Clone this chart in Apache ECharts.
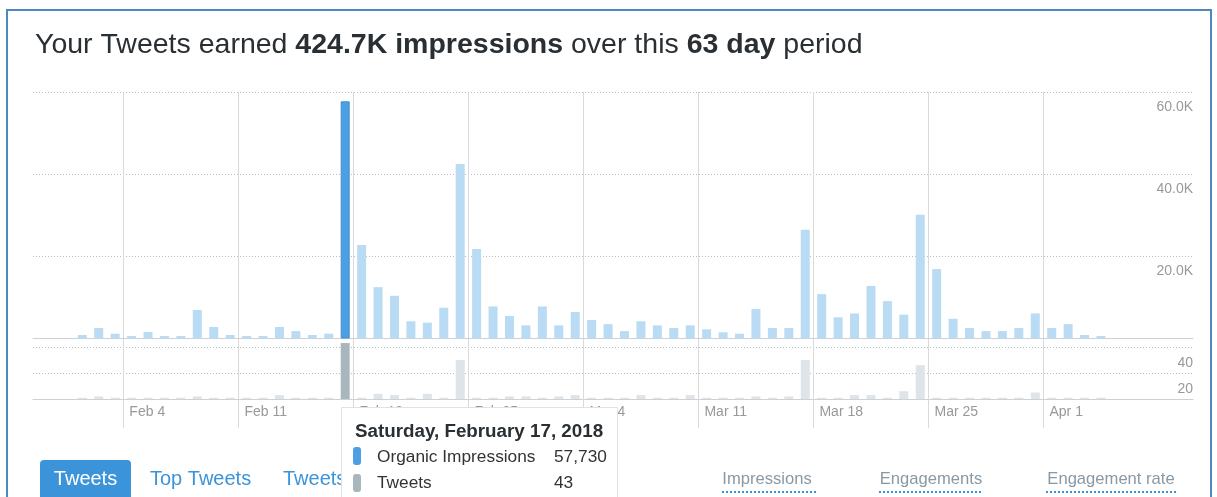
<!DOCTYPE html>
<html><head><meta charset="utf-8">
<script src="https://cdn.jsdelivr.net/npm/echarts@6/dist/echarts.min.js"></script>
<style>html,body{margin:0;padding:0;background:#fff;}#c{width:1217px;height:497px;}</style>
</head><body><div id="c"></div>
<script>
// ---- data ----
const dates = ['Feb 1','Feb 2','Feb 3','Feb 4','Feb 5','Feb 6','Feb 7','Feb 8','Feb 9','Feb 10',
 'Feb 11','Feb 12','Feb 13','Feb 14','Feb 15','Feb 16','Feb 17','Feb 18','Feb 19','Feb 20',
 'Feb 21','Feb 22','Feb 23','Feb 24','Feb 25','Feb 26','Feb 27','Feb 28','Mar 1','Mar 2',
 'Mar 3','Mar 4','Mar 5','Mar 6','Mar 7','Mar 8','Mar 9','Mar 10','Mar 11','Mar 12',
 'Mar 13','Mar 14','Mar 15','Mar 16','Mar 17','Mar 18','Mar 19','Mar 20','Mar 21','Mar 22',
 'Mar 23','Mar 24','Mar 25','Mar 26','Mar 27','Mar 28','Mar 29','Mar 30','Mar 31','Apr 1',
 'Apr 2','Apr 3','Apr 4'];
const impressions = [850,2560,1170,600,1580,600,600,6940,2800,850,
 600,600,2800,1800,850,1170,57730,22760,12500,10400,
 4200,3850,7500,42500,21800,7800,5500,3200,7800,3200,
 6450,4500,3500,1800,4200,3200,2560,3200,2240,1500,
 1170,7200,2560,2560,26500,10800,5160,6100,12800,9100,
 5800,30100,16900,4800,2560,1800,1800,2560,6100,2560,
 3500,850,600];
const tweets = [1,2,1,1,1,1,1,2,1,1,
 1,1,3,1,1,1,43,1,4,3,
 1,4,1,30,1,1,2,2,1,2,
 3,1,1,1,3,1,1,3,1,1,
 1,2,1,2,30,1,1,3,3,1,
 6,26,1,1,1,1,1,1,5,1,
 1,1,1];
const weekLabels = ['Feb 4','Feb 11','Feb 18','Feb 25','Mar 4','Mar 11','Mar 18','Mar 25','Apr 1'];
const impTicks = [20000,40000,60000];
const tweetTicks = [20,40];
const highlightDate = 'Feb 17';
const highlightTitle = 'Saturday, February 17, 2018';

// ---- chart ----
const FONT = '"Liberation Sans", Arial, Helvetica, sans-serif';
const hi = dates.indexOf(highlightDate);
const weekPos = weekLabels.map(l => dates.indexOf(l) - 0.5);
const X_MIN = -3, X_MAX = 67.6;
const AX = '#999';
const VLINE = '#dadada';
const DOT = {color:'#bcbcbc', width:1, type:[1,2]};

function weekLabel(v){
  for (let i=0;i<weekPos.length;i++) if (Math.abs(weekPos[i]-v)<0.01) return weekLabels[i];
  return '';
}

const chart = echarts.init(document.getElementById('c'), null, {renderer:'canvas'});
const option = {
  animation:false,
  grid:[
    {left:33, right:24, top:92, height:246.5},
    {left:33, right:24, top:338.5, height:60.5}
  ],
  xAxis:[
    {type:'value', gridIndex:0, min:X_MIN, max:X_MAX,
     axisLine:{show:true, onZero:false, lineStyle:{color:'#cdd1d4', width:1}},
     axisTick:{show:false, customValues:weekPos},
     axisLabel:{show:false, customValues:weekPos},
     splitLine:{show:true, lineStyle:{color:VLINE, width:1}}},
    {type:'value', gridIndex:1, min:X_MIN, max:X_MAX,
     axisLine:{show:true, onZero:false, lineStyle:{color:'#cdd1d4', width:1}},
     axisTick:{show:true, customValues:weekPos, length:29, lineStyle:{color:VLINE}},
     axisLabel:{show:true, customValues:weekPos, formatter:weekLabel, align:'left',
       margin:6, padding:[0,0,0,6], color:AX, fontSize:14, fontFamily:FONT},
     splitLine:{show:true, lineStyle:{color:VLINE, width:1}}}
  ],
  yAxis:[
    {type:'value', gridIndex:0, min:0, max:60000, position:'right',
     axisLine:{show:false}, axisTick:{show:false, customValues:impTicks},
     axisLabel:{inside:true, customValues:impTicks, margin:0, align:'right', verticalAlign:'top',
       padding:[8,0,0,0], color:AX, fontSize:14, fontFamily:FONT,
       formatter:v => (v/1000).toFixed(1)+'K'},
     splitLine:{show:true, lineStyle:DOT}},
    {type:'value', gridIndex:1, min:0, max:46.5, position:'right',
     axisLine:{show:false}, axisTick:{show:false, customValues:tweetTicks},
     axisLabel:{inside:true, customValues:tweetTicks, margin:0, align:'right', verticalAlign:'top',
       padding:[9,0,0,0], color:AX, fontSize:14, fontFamily:FONT,
       formatter:v => String(v)},
     splitLine:{show:true, lineStyle:DOT}}
  ],
  series:[
    {type:'bar', name:'Organic Impressions', xAxisIndex:0, yAxisIndex:0, barWidth:9,
     itemStyle:{color:'#badbf4'},
     data: impressions.map((v,i)=> i===hi ? {value:[i,v], itemStyle:{color:'#4c9fe2', borderColor:'#3f8fd0', borderWidth:1}} : {value:[i,v]})},
    {type:'bar', name:'Tweets', xAxisIndex:1, yAxisIndex:1, barWidth:9,
     itemStyle:{color:'#dfe4e8'},
     data: tweets.map((v,i)=> i===hi ? {value:[i,v], itemStyle:{color:'#aab6be'}} : {value:[i,v]})}
  ],
  graphic:{elements:[
    {type:'rect', z:300, silent:true, shape:{x:7, y:10, width:1204, height:520},
     style:{fill:'none', stroke:'#4f86c6', lineWidth:2}},
    {type:'text', z:10, style:{x:35, y:45, verticalAlign:'middle', align:'left',
      text:'{n|Your Tweets earned }{b|424.7K impressions}{n| over this }{b|63 day}{n| period}',
      rich:{n:{fontSize:28.5, fontFamily:FONT, fill:'#292f33'},
            b:{fontSize:28.5, fontFamily:FONT, fontWeight:'bold', fill:'#292f33'}}}},
    // tabs
    {type:'rect', z:10, shape:{x:40, y:460, width:91, height:50, r:4}, style:{fill:'#3b94d9'}},
    {type:'text', z:11, style:{x:85.5, y:479, align:'center', verticalAlign:'middle', text:'Tweets',
      font:'20px '+FONT, fill:'#ffffff'}},
    {type:'text', z:11, style:{x:150, y:479, align:'left', verticalAlign:'middle', text:'Top Tweets',
      font:'20px '+FONT, fill:'#3b94d9'}},
    {type:'text', z:11, style:{x:283, y:479, align:'left', verticalAlign:'middle', text:'Tweets and replies',
      font:'20px '+FONT, fill:'#3b94d9'}},
    // metric links
    {type:'text', z:11, style:{x:767, y:479, align:'center', verticalAlign:'middle', text:'Impressions',
      font:'16.6px '+FONT, fill:'#8899a6'}},
    {type:'line', z:11, shape:{x1:722, y1:492, x2:816, y2:492}, style:{stroke:'#3b94d9', lineWidth:2, lineDash:[2,2]}},
    {type:'text', z:11, style:{x:931, y:479, align:'center', verticalAlign:'middle', text:'Engagements',
      font:'16.6px '+FONT, fill:'#8899a6'}},
    {type:'line', z:11, shape:{x1:879, y1:492, x2:983, y2:492}, style:{stroke:'#3b94d9', lineWidth:2, lineDash:[2,2]}},
    {type:'text', z:11, style:{x:1111, y:479, align:'center', verticalAlign:'middle', text:'Engagement rate',
      font:'16.6px '+FONT, fill:'#8899a6'}},
    {type:'line', z:11, shape:{x1:1046, y1:492, x2:1177, y2:492}, style:{stroke:'#3b94d9', lineWidth:2, lineDash:[2,2]}},
    // tooltip
    {type:'rect', z:100, shape:{x:341.5, y:407.5, width:276, height:120},
     style:{fill:'#ffffff', stroke:'#dfe3e6', lineWidth:1}},
    {type:'text', z:101, style:{x:355, y:432, align:'left', verticalAlign:'middle', text:highlightTitle,
      font:'bold 18.8px '+FONT, fill:'#292f33'}},
    {type:'rect', z:101, shape:{x:353, y:447, width:8, height:18, r:3}, style:{fill:'#4c9fe2'}},
    {type:'text', z:101, style:{x:377, y:457, align:'left', verticalAlign:'middle', text:'Organic Impressions',
      font:'17.3px '+FONT, fill:'#333'}},
    {type:'text', z:101, style:{x:554, y:457, align:'left', verticalAlign:'middle',
      text:impressions[hi].toLocaleString('en-US'), font:'17.3px '+FONT, fill:'#333'}},
    {type:'rect', z:101, shape:{x:353, y:474, width:8, height:18, r:3}, style:{fill:'#aab6be'}},
    {type:'text', z:101, style:{x:377, y:483, align:'left', verticalAlign:'middle', text:'Tweets',
      font:'17.3px '+FONT, fill:'#333'}},
    {type:'text', z:101, style:{x:554, y:483, align:'left', verticalAlign:'middle',
      text:String(tweets[hi]), font:'17.3px '+FONT, fill:'#333'}}
  ]}
};
chart.setOption(option);
</script></body></html>
